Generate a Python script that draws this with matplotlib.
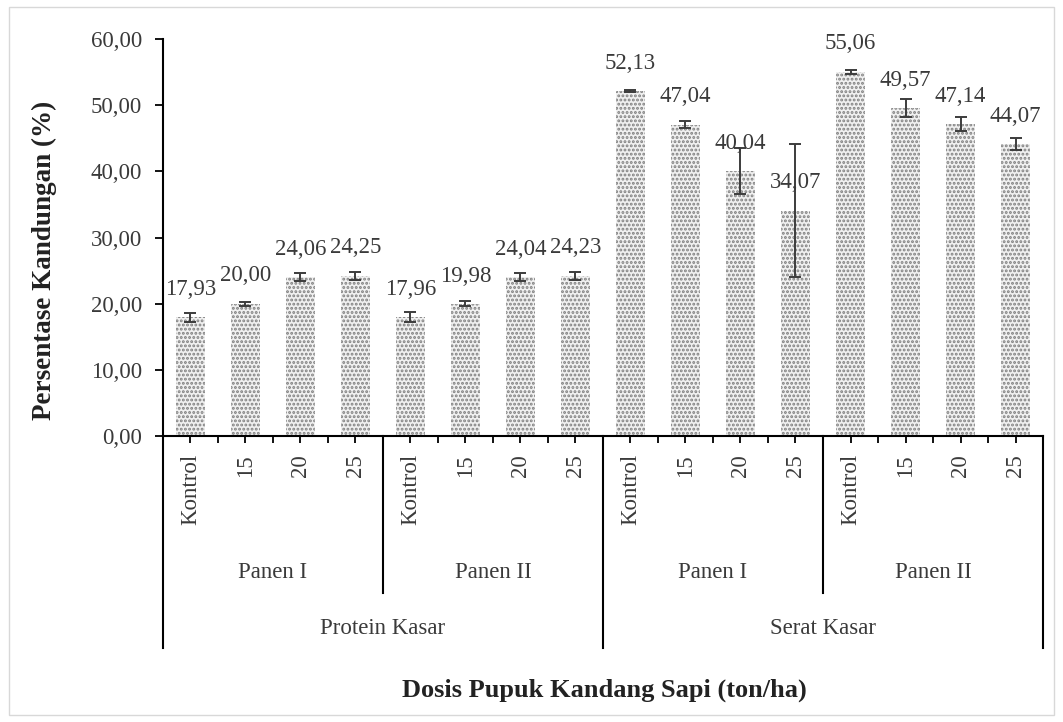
import numpy as np
import matplotlib.pyplot as plt
from matplotlib.lines import Line2D
from matplotlib.patches import Rectangle

plt.rcParams['font.family'] = ['Liberation Serif', 'DejaVu Serif']
plt.rcParams['hatch.linewidth'] = 1.4

# data
doses = ["Kontrol", "15", "20", "25"]
harvests = ["Panen I", "Panen II"]
parameters = ["Protein Kasar", "Serat Kasar"]

protein_p1 = [17.93, 20.00, 24.06, 24.25]
protein_p2 = [17.96, 19.98, 24.04, 24.23]
serat_p1 = [52.13, 47.04, 40.04, 34.07]
serat_p2 = [55.06, 49.57, 47.14, 44.07]

protein_p1_err = [0.7, 0.3, 0.6, 0.6]
protein_p2_err = [0.8, 0.4, 0.6, 0.6]
serat_p1_err = [0.2, 0.5, 3.5, 10.0]
serat_p2_err = [0.3, 1.4, 1.0, 0.9]

values = protein_p1 + protein_p2 + serat_p1 + serat_p2
errors = protein_p1_err + protein_p2_err + serat_p1_err + serat_p2_err
x = np.arange(len(values))

fig = plt.figure(figsize=(10.63, 7.22), dpi=100)
ax = fig.add_axes([0.1533, 0.3961, 0.8279, 0.5499])

txt = '#3a3a3a'
fs = 16.5
ax.bar(x, values, width=0.53, color='#f0f0f0', edgecolor='#808080',
       linewidth=0, hatch='....')
ax.errorbar(x, values, yerr=errors, fmt='none', ecolor='#3c3c3c',
            elinewidth=1.4, capsize=4.5, capthick=1.4)

for xi, v in zip(x, values):
    ax.annotate(f"{v:.2f}".replace('.', ','), (xi, v), xytext=(0, 20),
                textcoords='offset points', ha='center', va='center',
                fontsize=fs, color=txt)

ax.set_xlim(-0.5, len(values) - 0.5)
ax.set_ylim(0, 60)
yt = np.arange(0, 61, 10)
ax.set_yticks(yt)
ax.set_yticklabels([f"{v:.2f}".replace('.', ',') for v in yt], fontsize=fs, color=txt)

ax.set_xticks(x)
ax.set_xticklabels(doses * 4, rotation=90, fontsize=fs, color=txt, va='top')
ax.set_xticks(np.arange(0.5, len(values) - 1, 1), minor=True)
ax.tick_params(axis='x', which='both', direction='out', length=5, width=1.3, pad=8)
ax.tick_params(axis='y', direction='out', length=6, width=1.3, pad=9)

for s in ['top', 'right']:
    ax.spines[s].set_visible(False)
ax.spines['left'].set_linewidth(1.5)
ax.spines['bottom'].set_linewidth(1.5)

# group separators and labels below axis
tr = ax.get_xaxis_transform()
for xb in [3.5, 11.5]:
    ax.add_line(Line2D([xb, xb], [0, -0.395], transform=tr, color='black',
                       lw=1.5, clip_on=False))
for xb in [-0.5, 7.5, 15.5]:
    ax.add_line(Line2D([xb, xb], [0, -0.534], transform=tr, color='black',
                       lw=1.5, clip_on=False))
for i, lab in enumerate(harvests * 2):
    ax.text(i * 4 + 1.5, -0.345, lab, transform=tr, ha='center', va='center',
            fontsize=fs, color=txt)
for i, lab in enumerate(parameters):
    ax.text(i * 8 + 3.5, -0.486, lab, transform=tr, ha='center', va='center',
            fontsize=fs, color=txt)

fig.text(0.042, 0.64, "Persentase Kandungan (%)", rotation=90, ha='center',
         va='center', fontsize=19.5, fontweight='bold', color='#222222')
fig.text(0.569, 0.044, "Dosis Pupuk Kandang Sapi (ton/ha)", ha='center',
         va='center', fontsize=19, fontweight='bold', color='#222222')

fig.patches.append(Rectangle((0.008, 0.01), 0.984, 0.98, transform=fig.transFigure,
                             fill=False, edgecolor='#d8d8d8', lw=1))

fig.savefig('out.png', dpi=100)
